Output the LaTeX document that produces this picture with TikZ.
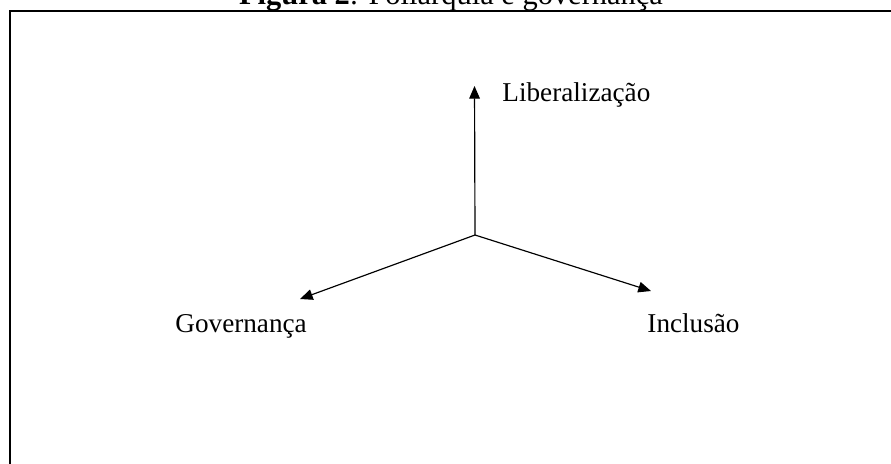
\documentclass[tikz,border=0pt]{standalone}
\usepackage{fontspec}
\setmainfont{Liberation Serif}
\usetikzlibrary{arrows.meta}
\tikzstyle{eixo} = [line width=0.5pt, -{Triangle[length=1.9mm, width=1.6mm]}]
\tikzstyle{rotulo} = [anchor=base west, inner sep=0pt, font=\fontsize{11.6}{14}\selectfont]

\begin{document}
\begin{tikzpicture}[x=0.015cm, y=-0.015cm]
                \useasboundingbox (0, 0) rectangle (891, 463);
                \draw [line width=0.85pt] (10, 470) -- (10, 11) -- (900, 11);
                \node [anchor=base, inner sep=0pt, font=\fontsize{13}{15}\selectfont] (titulo) at (451, 4.5) {\textbf{Figura 2}: Poliarquia e governança};
                \coordinate (o) at (475, 235);
                \coordinate (cima) at (474.5, 86);
                \coordinate (esq) at (300, 299);
                \coordinate (dir) at (651, 291);
                \node [rotulo] (lib) at (502, 101) {Liberalização};
                \node [rotulo] (gov) at (175, 332) {Governança};
                \node [rotulo] (inc) at (647, 332) {Inclusão};
                \draw [eixo] (o) -- (cima);
                \draw [eixo] (o) -- (esq);
                \draw [eixo] (o) -- (dir);
            \end{tikzpicture}
\end{document}
